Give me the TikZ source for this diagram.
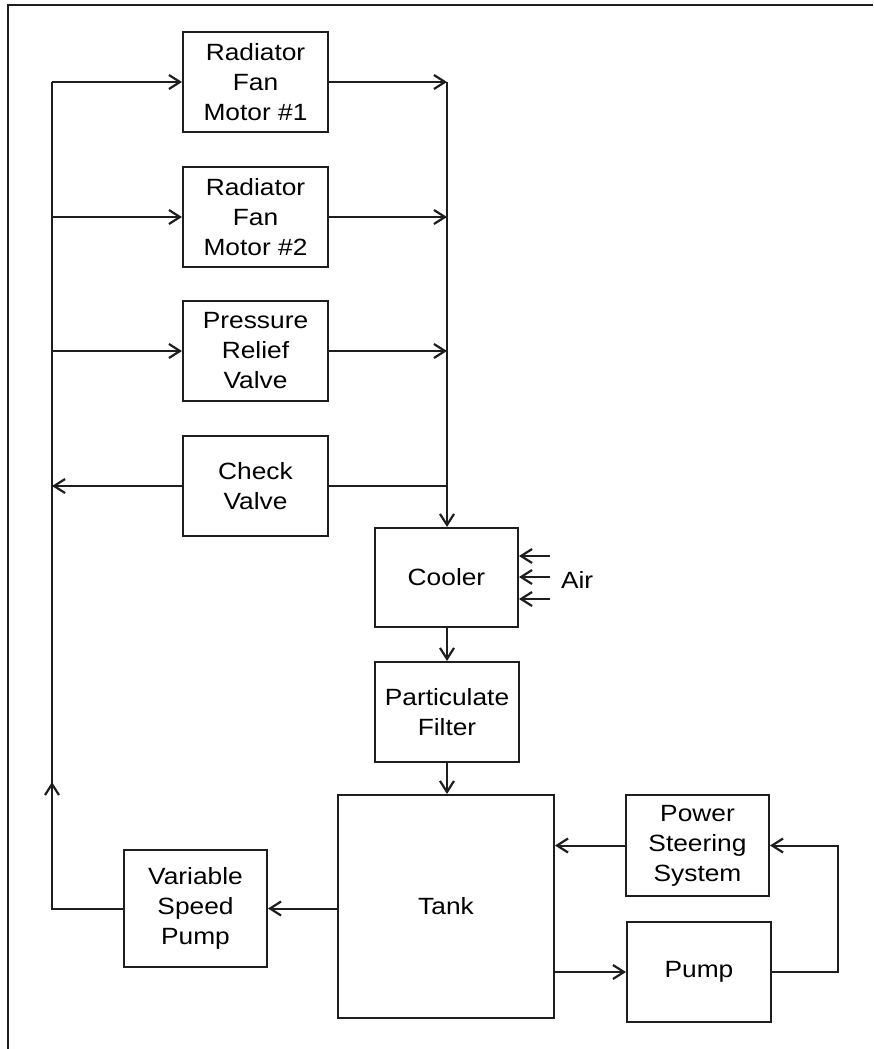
\documentclass[tikz,border=0pt]{standalone}
\usepackage{fontspec}
\setmainfont{Liberation Sans}[FakeStretch=1.12]
\usetikzlibrary{arrows.meta}
\begin{document}
\begin{tikzpicture}[x=1pt,y=-1pt,
  line width=2pt, draw={rgb,255:red,30;green,30;blue,30},
  box/.style={draw, rectangle, align=center, inner sep=0pt,
    font=\fontsize{23.5}{30}\selectfont},
  arr/.style={-{Straight Barb[length=11pt,width=14pt,line width=2.2pt]}},
  frame/.style={line width=2.2pt}]
\useasboundingbox (0,0) rectangle (873,1049);
% partial frame
\coordinate (F1) at (8,1049);
\coordinate (F2) at (8,5);
\coordinate (F3) at (873,5);
\draw[frame] (F1) -- (F2) -- (F3);
% boxes
\node[box, minimum width=145, minimum height=100] (rfm1) at (255.5,82) {Radiator\\Fan\\Motor \#1};
\node[box, minimum width=145, minimum height=100] (rfm2) at (255.5,217) {Radiator\\Fan\\Motor \#2};
\node[box, minimum width=145, minimum height=100] (prv) at (255.5,351) {Pressure\\Relief\\Valve};
\node[box, minimum width=145, minimum height=100] (cv) at (255.5,486) {Check\\Valve};
\node[box, minimum width=143, minimum height=99] (cool) at (446.5,577.5) {Cooler};
\node[box, minimum width=144, minimum height=100] (filt) at (447,712) {Particulate\\Filter};
\node[box, minimum width=216, minimum height=223] (tank) at (446,906.5) {Tank};
\node[box, minimum width=143, minimum height=101] (pss) at (697.5,845.5) {Power\\Steering\\System};
\node[box, minimum width=144, minimum height=100] (pump) at (699,972) {Pump};
\node[box, minimum width=143, minimum height=117] (vsp) at (195.5,908.5) {Variable\\Speed\\Pump};
\node[font=\fontsize{23.5}{30}\selectfont, anchor=west, inner sep=0pt] (air) at (560,580) {Air};
% left bus
\coordinate (L1) at (52,82);
\coordinate (L2) at (52,217);
\coordinate (L3) at (52,351);
\coordinate (L4) at (52,486);
\coordinate (L5) at (52,908.5);
\coordinate (L6) at (52,782);
\draw (vsp.west) -- (L5) -- (L1);
\draw[arr] (L5) -- (L6);
\draw[arr] (L1) -- (rfm1.west);
\draw[arr] (L2) -- (rfm2.west);
\draw[arr] (L3) -- (prv.west);
\draw[arr] (cv.west) -- (L4);
% right bus
\coordinate (R1) at (447,82);
\coordinate (R2) at (447,217);
\coordinate (R3) at (447,351);
\coordinate (R4) at (447,486);
\draw[arr] (R1) -- (cool.north -| R1);
\draw[arr] (rfm1.east) -- (R1);
\draw[arr] (rfm2.east) -- (R2);
\draw[arr] (prv.east) -- (R3);
\draw (cv.east) -- (R4);
% air arrows
\coordinate (A1) at (550,556);
\coordinate (A2) at (550,577);
\coordinate (A3) at (550,599);
\draw[arr] (A1) -- (A1 -| cool.east);
\draw[arr] (A2) -- (A2 -| cool.east);
\draw[arr, line width=2.6pt] (A3) -- (A3 -| cool.east);
% main flow
\draw[arr] (cool.south -| R1) -- (filt.north -| R1);
\draw[arr] (filt.south -| R1) -- (tank.north -| R1);
\draw[arr] (tank.west |- vsp.west) -- (vsp.east);
\draw[arr] (tank.east |- pump.west) -- (pump.west);
\draw[arr] (pss.west) -- (tank.east |- pss.west);
\coordinate (P1) at (838,972);
\coordinate (P2) at (838,845.5);
\draw[arr] (pump.east) -- (P1) -- (P2) -- (pss.east);
\end{tikzpicture}
\end{document}
